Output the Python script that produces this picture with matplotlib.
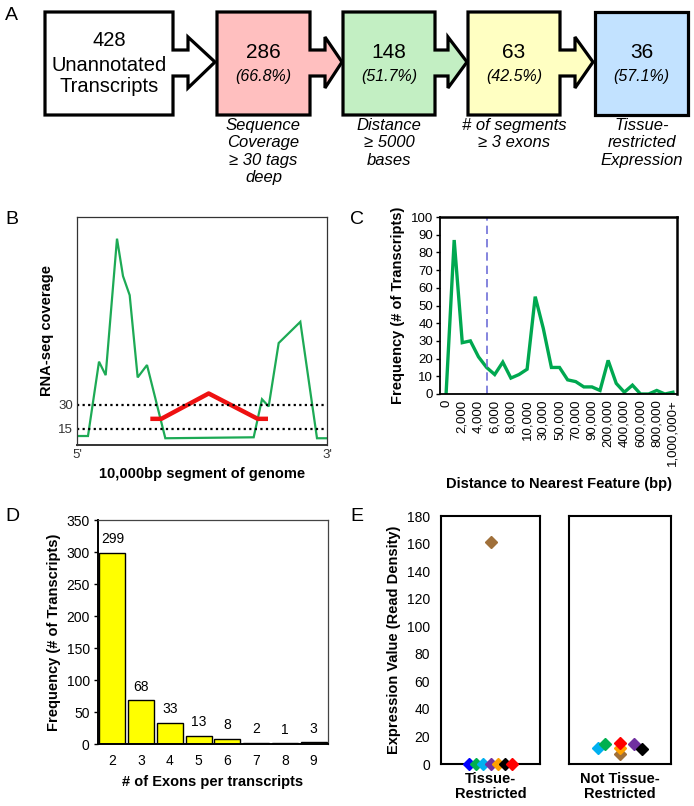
import matplotlib
matplotlib.use("Agg")
import matplotlib.pyplot as plt
from matplotlib.patches import Polygon

plt.rcParams['font.family'] = ['Liberation Sans', 'DejaVu Sans']

# ---------------- data ----------------
# Panel A
flow_counts = ["428", "286", "148", "63", "36"]
flow_pcts = ["", "(66.8%)", "(51.7%)", "(42.5%)", "(57.1%)"]
flow_first_label = "Unannotated\nTranscripts"
flow_captions = ["", "Sequence\nCoverage\n\u2265 30 tags\ndeep", "Distance\n\u2265 5000\nbases",
                 "# of segments\n\u2265 3 exons", "Tissue-\nrestricted\nExpression"]
flow_colors = ["#FFFFFF", "#FFBFBF", "#C3EFC3", "#FFFFC2", "#C2E2FF"]

# Panel B
cov_x = [0, 440, 880, 1147, 1600, 1840, 2107, 2427, 2800, 3533, 7067, 7400, 7667, 8067, 8933, 9600, 10000]
cov_y = [10.6, 10.6, 56.9, 48.5, 133.5, 110.2, 98.3, 47.1, 54.8, 9.2, 9.8, 33.5, 29.0, 68.5, 81.7, 9.2, 9.2]
model_x = [2933, 3373, 5267, 7227, 7640]
model_y = [21.3, 21.3, 37.1, 21.3, 21.3]
thresholds = [30, 15]

# Panel C
dist_cats = ["0", "1,000", "2,000", "3,000", "4,000", "5,000", "6,000", "7,000", "8,000", "9,000", "10,000",
             "20,000", "30,000", "40,000", "50,000", "60,000", "70,000", "80,000", "90,000", "100,000",
             "200,000", "300,000", "400,000", "500,000", "600,000", "700,000", "800,000", "900,000", "1,000,000+"]
dist_freq = [0, 87, 29, 30, 21, 15, 11, 18, 9, 11, 14, 55, 37, 15, 15, 8, 7, 4, 4, 2,
             19, 6, 1, 5, 0, 0, 2, 0, 1]
dist_cutoff_cat = "5,000"

# Panel D
exon_counts = [2, 3, 4, 5, 6, 7, 8, 9]
exon_freq = [299, 68, 33, 13, 8, 2, 1, 3]

# Panel E
tr_colors = ["#0000FF", "#00B050", "#00B0F0", "#7030A0", "#FFA000", "#000000", "#FF0000", "#A0703A"]
tr_pos = [-3, -2, -1, 0, 1, 2, 3, 0]
tr_vals = [0, 0, 0, 0, 0, 0, 0, 161]
ntr_colors = ["#00B0F0", "#00B050", "#A0703A", "#FFA000", "#FF0000", "#7030A0", "#000000"]
ntr_pos = [-3, -2, 0, 0, 0, 2, 3]
ntr_vals = [11.6, 14.5, 7.3, 11.6, 15.2, 14.5, 10.9]

# ---------------- figure ----------------
W, H = 694, 806
fig = plt.figure(figsize=(W / 100, H / 100), dpi=100)

def frac(l, t, r, b):
    return [l / W, (H - b) / H, (r - l) / W, (b - t) / H]

# overlay axes for the flow diagram and panel letters
ov = fig.add_axes([0, 0, 1, 1])
ov.set_xlim(0, W)
ov.set_ylim(H, 0)
ov.axis('off')

box_l = [45, 217, 343, 468, 595]
box_r = [173, 310, 435, 560, 688]
tips = [215, 342, 467, 593, None]
shaft_end = [188, 325, 448, 575, None]
top, bot = 12, 115
for i in range(5):
    l, r = box_l[i], box_r[i]
    if tips[i] is not None:
        s, t = shaft_end[i], tips[i]
        pts = [(l, top), (r, top), (r, 50), (s, 50), (s, 37), (t, 62), (s, 88), (s, 76),
               (r, 76), (r, bot), (l, bot)]
    else:
        pts = [(l, top), (r, top), (r, bot), (l, bot)]
    ov.add_patch(Polygon(pts, closed=True, facecolor=flow_colors[i], edgecolor='black',
                         lw=2.3, joinstyle='miter'))
    cx = (l + r) / 2
    if i == 0:
        ov.text(cx, 40, flow_counts[i], ha='center', va='center', fontsize=14.5)
        ov.text(cx, 76, flow_first_label, ha='center', va='center', fontsize=14.5, linespacing=1.15)
    else:
        ov.text(cx, 53, flow_counts[i], ha='center', va='center', fontsize=15)
        ov.text(cx, 77, flow_pcts[i], ha='center', va='center', fontsize=11.5, style='italic')
        ov.text(cx, 118, flow_captions[i], ha='center', va='top', fontsize=12, style='italic',
                linespacing=1.2)

for lab, x, y in [("A", 5, 7), ("B", 5, 211), ("C", 350, 211), ("D", 5, 508), ("E", 350, 508)]:
    ov.text(x, y, lab, ha='left', va='top', fontsize=14)

# ---------------- Panel B ----------------
axB = fig.add_axes(frac(77, 217, 327, 445))
axB.plot(cov_x, cov_y, color='#1DAA55', lw=1.6, solid_joinstyle='miter')
axB.plot(model_x, model_y, color='#EE1111', lw=3.2, solid_capstyle='butt')
for th in thresholds:
    axB.axhline(th, color='black', lw=1.6, ls=(0, (1, 1.5)))
axB.set_xlim(0, 10000)
axB.set_ylim(5, 147)
axB.set_yticks(thresholds)
axB.set_yticklabels([str(t) for t in thresholds], fontsize=9.5, color='#333333')
axB.set_xticks([0, 10000])
axB.set_xticklabels(["5'", "3'"], fontsize=9.5, color='#333333')
axB.tick_params(length=0, pad=3)
for sp in axB.spines.values():
    sp.set_color('#333333')
    sp.set_linewidth(0.9)
axB.spines['bottom'].set_linewidth(1.4)
axB.set_xlabel("10,000bp segment of genome", fontsize=10.5, fontweight='bold', labelpad=4)
axB.set_ylabel("RNA-seq coverage", fontsize=10.5, fontweight='bold', labelpad=3)

# ---------------- Panel C ----------------
axC = fig.add_axes(frac(440, 217, 677, 394))
xc = list(range(len(dist_cats)))
axC.plot(xc, dist_freq, color='#00A850', lw=2.4, solid_joinstyle='miter', clip_on=True)
axC.axvline(dist_cats.index(dist_cutoff_cat), color='#7070D8', lw=1.2, ls=(0, (5, 3)))
axC.set_xlim(-0.75, 28.5)
axC.set_ylim(0, 100)
axC.set_yticks(range(0, 101, 10))
axC.set_yticklabels([str(v) for v in range(0, 101, 10)], fontsize=9.5)
axC.set_xticks(xc[::2])
axC.set_xticklabels(dist_cats[::2], rotation=90, fontsize=9.5)
axC.tick_params(axis='x', length=0, pad=4)
axC.tick_params(axis='y', length=3, width=1, pad=2)
for sp in ['left', 'bottom']:
    axC.spines[sp].set_linewidth(1.3)
for sp in ['top', 'right']:
    axC.spines[sp].set_linewidth(1.8)
axC.set_xlabel("Distance to Nearest Feature (bp)", fontsize=10.5, fontweight='bold', labelpad=8)
axC.set_ylabel("Frequency (# of Transcripts)", fontsize=10.5, fontweight='bold', labelpad=4)

# ---------------- Panel D ----------------
axD = fig.add_axes(frac(98, 520, 328, 744))
bars = axD.bar(exon_counts, exon_freq, width=0.9, color='#FFFF00', edgecolor='black', lw=1.0)
for xv, yv in zip(exon_counts, exon_freq):
    axD.text(xv, yv + 10, str(yv), ha='center', va='bottom', fontsize=10)
axD.set_xlim(1.5, 9.5)
axD.set_ylim(0, 350)
axD.set_yticks(range(0, 351, 50))
axD.set_yticklabels([str(v) for v in range(0, 351, 50)], fontsize=10)
axD.set_xticks(exon_counts)
axD.set_xticklabels([str(v) for v in exon_counts], fontsize=10)
axD.tick_params(axis='x', length=0, pad=7)
axD.tick_params(axis='y', length=3, width=1, pad=3)
for sp in ['left', 'bottom']:
    axD.spines[sp].set_linewidth(1.4)
for sp in ['top', 'right']:
    axD.spines[sp].set_linewidth(0.9)
    axD.spines[sp].set_color('#444444')
axD.set_xlabel("# of Exons per transcripts", fontsize=10.5, fontweight='bold', labelpad=5)
axD.set_ylabel("Frequency (# of Transcripts)", fontsize=10.5, fontweight='bold', labelpad=4)

# ---------------- Panel E ----------------
axE1 = fig.add_axes(frac(441, 516, 540, 764))
axE2 = fig.add_axes(frac(569, 516, 671, 764))
for ax, pos, vals, cols in [(axE1, tr_pos, tr_vals, tr_colors), (axE2, ntr_pos, ntr_vals, ntr_colors)]:
    for p, v, c in zip(pos, vals, cols):
        ax.plot(p, v, marker='D', ms=6, color=c, mec=c, ls='none', clip_on=False, zorder=5)
    ax.set_ylim(0, 180)
    ax.set_xticks([])
    for sp in ax.spines.values():
        sp.set_linewidth(1.5)
axE1.set_xlim(-6.8, 6.8)
axE2.set_xlim(-6.9, 7.0)
axE1.set_yticks(range(0, 181, 20))
axE1.set_yticklabels([str(v) for v in range(0, 181, 20)], fontsize=10)
axE1.tick_params(axis='y', length=0, pad=8)
axE2.set_yticks([])
axE1.set_ylabel("Expression Value (Read Density)", fontsize=10.5, fontweight='bold', labelpad=4)
axE1.set_xlabel("Tissue-\nRestricted", fontsize=10.5, fontweight='bold', labelpad=6, linespacing=1.1)
axE2.set_xlabel("Not Tissue-\nRestricted", fontsize=10.5, fontweight='bold', labelpad=6, linespacing=1.1)

fig.savefig("out.png", dpi=100)
